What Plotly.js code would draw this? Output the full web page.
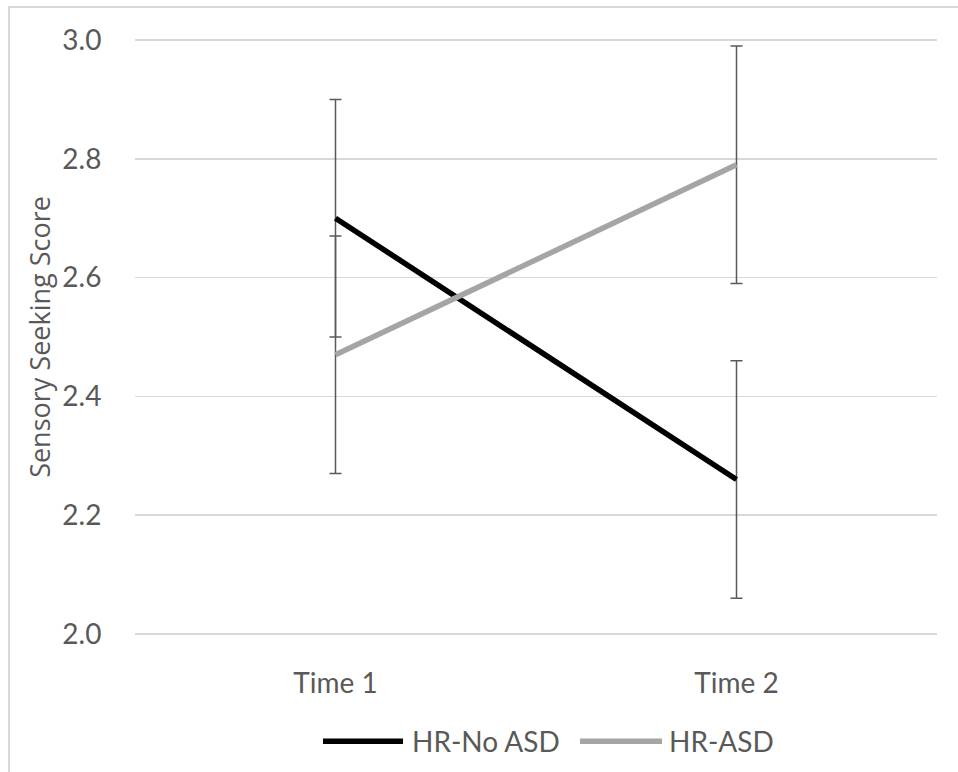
<!DOCTYPE html>
<html>
<head>
<meta charset="utf-8">
<script src="https://cdn.plot.ly/plotly-3.0.1.min.js"></script>
<style>
  html, body { margin: 0; padding: 0; background: #ffffff; }
  #wrap { position: relative; width: 958px; height: 772px; overflow: hidden; }
  #chart { position: absolute; left: 0; top: 0; width: 958px; height: 772px; }
  #frame { position: absolute; left: 8px; top: 6px; width: 970px; height: 790px;
           border: 2px solid #d9d9d9; pointer-events: none; }
</style>
</head>
<body>
<div id="wrap">
  <div id="chart"></div>
  <div id="frame"></div>
</div>
<script>
const categories = ['Time 1', 'Time 2'];
const noAsdName = 'HR-No ASD';
const noAsdMean = [2.70, 2.26];
const noAsdErr = [0.20, 0.20];
const asdName = 'HR-ASD';
const asdMean = [2.47, 2.79];
const asdErr = [0.20, 0.20];
const yTitle = 'Sensory Seeking Score';
const yMin = 2.0, yMax = 3.0, yStep = 0.2;

const textColor = '#595959';
const fontFamily = 'Lato, "Open Sans", sans-serif';
const titleFamily = '"Open Sans", "Noto Sans", sans-serif';
const colNoAsd = '#000000';
const colAsd = '#a5a5a5';

const errStyle = (arr) => ({
  type: 'data', array: arr, visible: true,
  color: '#595959', thickness: 1.5, width: 6
});

const traces = [
  {
    x: categories, y: noAsdMean, name: noAsdName, type: 'scatter', mode: 'lines',
    line: { color: colNoAsd, width: 5.5 },
    error_y: errStyle(noAsdErr), showlegend: false
  },
  {
    x: categories, y: asdMean, name: asdName, type: 'scatter', mode: 'lines',
    line: { color: colAsd, width: 5.5 },
    error_y: errStyle(asdErr), showlegend: false
  }
];

// legend drawn as paper-referenced samples (longer line swatches like the original)
const legY = -0.176;
const legendItems = [
  { name: noAsdName, color: colNoAsd, x0: 0.2344, x1: 0.3342, tx: 0.3431 },
  { name: asdName, color: colAsd, x0: 0.5549, x1: 0.6571, tx: 0.6636 }
];
const shapes = legendItems.map(it => ({
  type: 'line', xref: 'paper', yref: 'paper',
  x0: it.x0, x1: it.x1, y0: legY, y1: legY,
  line: { color: it.color, width: 5.5 }
}));
const annotations = legendItems.map(it => ({
  xref: 'paper', yref: 'paper', x: it.tx, y: legY,
  xanchor: 'left', yanchor: 'middle', showarrow: false,
  text: it.name, font: { family: fontFamily, size: 28, color: textColor }
}));

const pad = 0.0034;
const layout = {
  width: 958, height: 772,
  margin: { l: 135, r: 21, t: 38, b: 136 },
  paper_bgcolor: '#ffffff', plot_bgcolor: '#ffffff',
  font: { family: fontFamily, size: 28, color: textColor },
  showlegend: false,
  shapes: shapes,
  annotations: annotations,
  xaxis: {
    type: 'category', range: [-0.5, 1.5],
    showgrid: false, zeroline: false, showline: false,
    ticks: 'outside', ticklen: 22, tickcolor: 'rgba(0,0,0,0)',
    tickfont: { family: fontFamily, size: 28, color: textColor }
  },
  yaxis: {
    range: [yMin - pad, yMax + pad], dtick: yStep, tick0: yMin, tickformat: '.1f',
    showgrid: true, gridcolor: '#d9d9d9', gridwidth: 1.5,
    zeroline: false, showline: false,
    ticks: 'outside', ticklen: 27, tickcolor: 'rgba(0,0,0,0)',
    tickfont: { family: fontFamily, size: 28, color: textColor },
    title: { text: yTitle, font: { family: titleFamily, size: 27, color: textColor }, standoff: 3 }
  }
};

Plotly.newPlot('chart', traces, layout, { displayModeBar: false, staticPlot: true });
</script>
</body>
</html>
